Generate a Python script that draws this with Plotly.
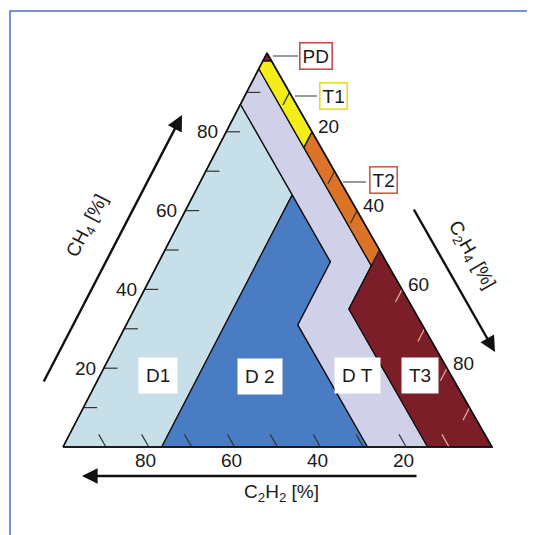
import plotly.graph_objects as go

# ---------------- data (percent) ----------------
# Zone polygons: vertices given as CH4 % and C2H4 % (C2H2 % = 100 - CH4 - C2H4)
ZONE_NAMES = ["D1", "D2", "DT", "T3", "T2", "T1", "PD"]
D1_CH4 = [0, 0, 64, 87]
D1_C2H4 = [0, 23, 23, 0]
D2_CH4 = [0, 0, 31, 47, 64]
D2_C2H4 = [23, 71, 40, 40, 23]
DT_CH4 = [0, 0, 35, 46, 96, 87, 47, 31]
DT_C2H4 = [71, 85, 50, 50, 0, 0, 40, 40]
T3_CH4 = [0, 0, 50, 35]
T3_C2H4 = [85, 100, 50, 50]
T2_CH4 = [46, 50, 80, 76]
T2_C2H4 = [50, 50, 20, 20]
T1_CH4 = [76, 80, 98, 98, 96]
T1_C2H4 = [20, 20, 2, 0, 0]
PD_CH4 = [98, 100, 98]
PD_C2H4 = [2, 0, 0]

MINOR_TICKS = [10, 20, 30, 40, 50, 60, 70, 80, 90]
TICK_LABELS = [20, 40, 60, 80]

# ---------------- styling ----------------
COLORS = {"D1": "#c6dfe8", "D2": "#4a7cc4", "DT": "#d0d0e8", "T3": "#7b1e28",
          "T2": "#dc7328", "T1": "#f4ee18", "PD": "#8c1636"}
FONT = "Arial, Liberation Sans, sans-serif"
TOP_X = 0.4755     # horizontal position of the CH4 apex as fraction of the base
TICK_LEN = 3.2     # percent
OFF = 8            # page body margin of the html page
W = H = 535 - OFF


def to_xy(ch4, c2h4):
    return c2h4 + TOP_X * ch4, ch4


def paper(px, py):
    return (px - OFF) / W, 1 - (py - OFF) / H


fig = go.Figure()

zones = {"D1": (D1_CH4, D1_C2H4), "D2": (D2_CH4, D2_C2H4), "DT": (DT_CH4, DT_C2H4),
         "T3": (T3_CH4, T3_C2H4), "T2": (T2_CH4, T2_C2H4), "T1": (T1_CH4, T1_C2H4),
         "PD": (PD_CH4, PD_C2H4)}
for name in ZONE_NAMES:
    a, c = zones[name]
    xs, ys = zip(*[to_xy(ai, ci) for ai, ci in zip(a, c)])
    xs = list(xs) + [xs[0]]
    ys = list(ys) + [ys[0]]
    fig.add_trace(go.Scatter(x=xs, y=ys, mode="lines", fill="toself",
                             fillcolor=COLORS[name], line=dict(color="#111", width=1.3),
                             hoverinfo="skip", showlegend=False))

# tick marks
dark_x, dark_y, light_x, light_y = [], [], [], []


def add_tick(a0, c0, a1, c1):
    b0 = 100 - a0 - c0
    light = c0 > 50 and b0 < 15
    x0, y0 = to_xy(a0, c0)
    x1, y1 = to_xy(a1, c1)
    tx, ty = (light_x, light_y) if light else (dark_x, dark_y)
    tx += [x0, x1, None]
    ty += [y0, y1, None]


for v in MINOR_TICKS:
    add_tick(v, 0, v, TICK_LEN)                        # CH4 (left edge)
    add_tick(0, 100 - v, TICK_LEN, 100 - v - TICK_LEN)  # C2H2 (bottom edge)
    add_tick(100 - v, v, 100 - v - TICK_LEN, v)        # C2H4 (right edge)

fig.add_trace(go.Scatter(x=dark_x, y=dark_y, mode="lines",
                         line=dict(color="#333", width=1.2), hoverinfo="skip", showlegend=False))
fig.add_trace(go.Scatter(x=light_x, y=light_y, mode="lines",
                         line=dict(color="#e6b0a0", width=1.2), hoverinfo="skip", showlegend=False))

# outer triangle
ox, oy = zip(*[to_xy(0, 0), to_xy(0, 100), to_xy(100, 0), to_xy(0, 0)])
fig.add_trace(go.Scatter(x=list(ox), y=list(oy), mode="lines",
                         line=dict(color="#111", width=1.6), hoverinfo="skip", showlegend=False))

LBL = dict(size=19, color="#1a1a1a", family=FONT)
annotations = []
for v in TICK_LABELS:
    x, y = to_xy(v, 0)
    annotations.append(dict(x=x, y=y, xref="x", yref="y", text=str(v), showarrow=False,
                            xanchor="right", yanchor="middle", xshift=-6, font=LBL))
    x, y = to_xy(100 - v, v)
    annotations.append(dict(x=x, y=y, xref="x", yref="y", text=str(v), showarrow=False,
                            xanchor="left", yanchor="middle", xshift=4, yshift=5, font=LBL))
    x, y = to_xy(0, 100 - v)
    annotations.append(dict(x=x, y=y, xref="x", yref="y", text=str(v), showarrow=False,
                            xanchor="center", yanchor="top", xshift=-3, yshift=-1, font=LBL))

# zone labels (white boxes)
for txt, (px, py) in [("D1", (158, 375)), ("D 2", (260, 376)), ("D T", (357, 375)), ("T3", (420, 375))]:
    x, y = paper(px, py)
    annotations.append(dict(x=x, y=y, xref="paper", yref="paper", text=txt, showarrow=False,
                            bgcolor="white", borderpad=7, xanchor="center", yanchor="middle",
                            font=LBL))

# callout labels
for txt, (px, py), bc in [("PD", (316, 56), "#c0504d"), ("T1", (333, 96), "#e6de1e"),
                          ("T2", (383, 180), "#c8603e")]:
    x, y = paper(px, py)
    annotations.append(dict(x=x, y=y, xref="paper", yref="paper", text=txt, showarrow=False,
                            bgcolor="white", bordercolor=bc, borderwidth=1.6, borderpad=2,
                            xanchor="center", yanchor="middle", font=LBL))

# direction arrows
for (hx, hy), (tx, ty) in [((182, 115), (43, 383)), ((495, 352), (413, 208)), ((82, 476), (418, 476))]:
    x, y = paper(hx, hy)
    annotations.append(dict(x=x, y=y, xref="paper", yref="paper", text="", showarrow=True,
                            axref="pixel", ayref="pixel", ax=tx - hx, ay=ty - hy,
                            arrowhead=2, arrowsize=1.3, arrowwidth=2.4, arrowcolor="#111",
                            standoff=0))

# axis titles
for txt, (px, py), ang in [("CH<sub>4</sub> [%]", (88, 226), -62.6),
                           ("C<sub>2</sub>H<sub>4</sub> [%]", (471, 255), 60.3),
                           ("C<sub>2</sub>H<sub>2</sub> [%]", (281, 493), 0)]:
    x, y = paper(px, py)
    annotations.append(dict(x=x, y=y, xref="paper", yref="paper", text=txt, showarrow=False,
                            textangle=ang, xanchor="center", yanchor="middle", font=LBL))

shapes = []
# leader lines
for (x0p, y0p), (x1p, y1p) in [((273, 56), (298, 56)), ((295, 96), (317, 96)), ((343, 182), (366, 182))]:
    a0, b0 = paper(x0p, y0p)
    a1, b1 = paper(x1p, y1p)
    shapes.append(dict(type="line", xref="paper", yref="paper", x0=a0, y0=b0, x1=a1, y1=b1,
                       line=dict(color="#777", width=1.5)))
# outer frame
fx0, fy0 = paper(10, 11)
shapes.append(dict(type="rect", xref="paper", yref="paper", x0=fx0, y0=-0.05, x1=1.05, y1=fy0,
                   line=dict(color="#4a6fc0", width=1.5), fillcolor="rgba(0,0,0,0)", layer="below"))

XS, YS = 4.29, 3.94   # pixels per percent
X0, Y0 = 63 - OFF, 447 - OFF   # figure pixel position of the C2H2 apex
fig.update_layout(
    width=W, height=H, autosize=False,
    margin=dict(l=0, r=0, t=0, b=0, pad=0),
    paper_bgcolor="white", plot_bgcolor="white",
    xaxis=dict(range=[-X0 / XS, (W - X0) / XS], visible=False, fixedrange=True),
    yaxis=dict(range=[-(H - Y0) / YS, Y0 / YS], visible=False, fixedrange=True),
    annotations=annotations, shapes=shapes, showlegend=False,
)

fig.write_html("out.html")
